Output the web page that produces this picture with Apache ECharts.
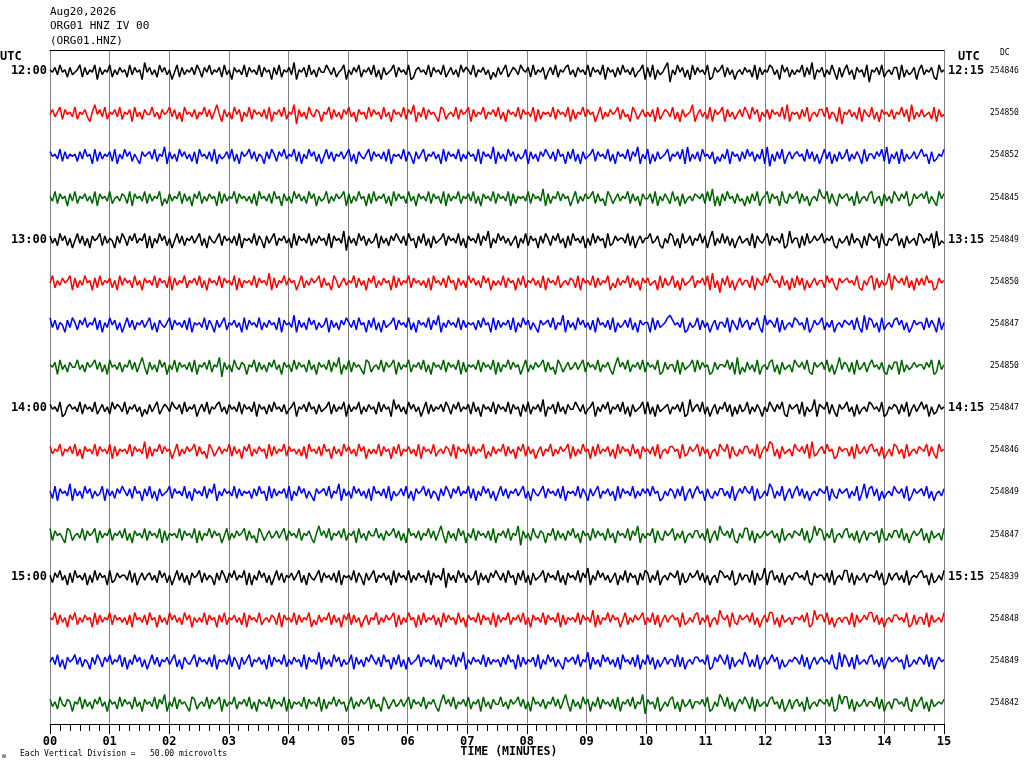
<!DOCTYPE html>
<html>
<head>
<meta charset="utf-8">
<title>ORG01 HNZ IV 00</title>
<script src="https://cdn.jsdelivr.net/npm/echarts@6/dist/echarts.min.js"></script>
<style>
  html, body { margin: 0; padding: 0; background: #ffffff; }
  #chart { width: 1024px; height: 768px; }
</style>
</head>
<body>
<div id="chart"></div>
<script>
// header / axis texts
var titleLines = ['Aug20,2026', 'ORG01 HNZ IV 00', '(ORG01.HNZ)'];
var minuteLabels = ['00', '01', '02', '03', '04', '05', '06', '07', '08', '09', '10', '11', '12', '13', '14', '15'];
var hourLabels = ['12:00', '', '', '', '13:00', '', '', '', '14:00', '', '', '', '15:00', '', '', ''];
var endLabels = ['12:15', '', '', '', '13:15', '', '', '', '14:15', '', '', '', '15:15', '', '', ''];
var dcValues = ['254846', '254850', '254852', '254845', '254849', '254850', '254847', '254850',
                '254847', '254846', '254849', '254847', '254839', '254848', '254849', '254842'];
var traceColors = ['#000000', '#ff0000', '#0000ff', '#006400'];

// samples per 15-minute line, one digit per sample (4.5 = trace baseline)
var traceSamples = [
  "4536254736 5427364528 3645274635 4726354815 3647253648 5273645362 4735264537 2648354627 3546273548 3627453618 4537264735 5246375428 4635274536 2748365427 3546287435 4627354627 5364725346 2745364857 3642753462 4537264538 5362745326 4735462735 4628354736 2546375428 3728465319 4625374826 3546287354 2736485463 5472836452 3648253746 4527361845 3746258374 2648354729 4536275463 3827465384 2645378254",
  "5364273546 2745368415 3627453627 4538264735 5264735426 3748254637 4526374158 3647253846 2735463728 4536274519 3647256348 4527364735 2648354726 3547264835 4627351846 2735468237 5462735428 3645274536 2748354627 3546283745 4627354628 3745263548 5274635427 3658247536 4638275346 2748365418 5364728354 2836475362 4725384637 3546271845 4736285463 3627458294 5364728356 2748354637 4526381746 3654728365",
  "3546273645 4736254827 3645372846 2537468354 3627451836 4725364738 2546372846 5362748354 2637458362 4735264527 3846253748 5263745364 2748356427 3546372845 4627358364 2745364827 3546274635 4728354618 3647253746 5283647352 4637254836 2748365427 3546274835 4627351846 2847365427 4536281746 3725463857 4628354736 2537462819 4736285364 3547263748 5263847365 2746358274 4635271846 3827465364 2548376452",
  "4627354836 2745364728 3546275463 4728354627 3645285736 4527364835 2746354827 3645273546 4738254637 2548364725 3647253846 5274635428 3746254837 2645374826 3547264835 4627354728 3645274536 2748354627 3546283745 4627354618 3745263548 5274635427 3658247536 4527364835 5372846357 2648375463 4537261848 3625473658 4736285427 3548267354 2736485461 4527368354 3648275463 2754836472 4635287354 3527468253",
  "3647253748 5263748354 2736458362 4735264528 3846253748 5263745364 2748356427 3546372845 4627358364 2745364827 3546274635 4728354619 3647253746 5283647352 4637254836 2748365427 3546274835 4627351846 2536475384 6273548362 4735264837 2546384726 3548276354 4627385364 4265378462 3748265374 5263841746 2637485365 4728356427 3546287164 4837265354 2645378465 3726458372 4538267453 2748365472 3645281756",
  "5274635428 3746254837 2645374826 3547264835 4627354728 3645274536 2748354627 3546283745 4627354618 3745263548 5274635427 3658247536 4527364835 2746354827 3645273546 4738254637 2548364725 3647253846 4627354836 2745364728 3546275463 4728354627 3645285736 4527364835 3654827365 2748365427 4536281749 3627485364 4728356251 3547264837 2638475364 4725368354 3546278463 2837465182 4536274836 3625487354",
  "2637458362 4735264527 3846253748 5263745364 2748356427 3546372845 4627358364 2745364827 3546274635 4728354618 3647253746 5283647352 4637254836 2748365427 3546274835 4627351846 3546273645 4736254827 3645372846 2537468354 3627451836 4725364738 2546372846 5362748354 4827365421 3546287465 2736485374 4628357264 3745268153 4628375462 3547286354 2746385463 4537268172 3648275463 2537486354 4726358274",
  "4538264735 5264735426 3748254637 4526374158 3647253846 2735463728 4536274519 3647256348 4527364735 2648354726 3547264835 4627351846 2735468237 5462735428 3645274536 2748354627 3546283745 4627354628 3745263548 5274635427 3658247536 5364273546 2745368415 3627453627 3546287364 4728365427 2635487364 4526381857 3647285463 2748365472 4536278354 3627485163 4738265374 2546378463 3827465354 4635287264",
  "3546287435 4627354627 5364725346 2745364857 3642753462 4537264538 5362745326 4735462735 4628354736 2546375428 4536254736 5427364528 3645274635 4726354815 3647253648 5273645362 4735264537 2648354627 3546273548 3627453618 4537264735 5246375428 4635274536 2748365427 2748365437 4536287164 3627485374 5263847365 2746358462 4635278354 3728465183 4527368354 2648375462 3546287453 4736285364 2538476354",
  "3645274536 2748354627 3546283745 4627354618 3745263548 5274635427 3658247536 4527364835 2746354827 3645273546 4738254637 2548364725 3647253846 4627354836 2745364728 3546275463 4728354627 3645285736 4527364835 2736485374 5274635428 3746254837 2645374826 3547264835 4637285463 3548276354 2736485472 4528367463 3647285351 2748365472 4536281764 3625487354 4738265363 2547386472 3648275463 4527368254",
  "4728354618 3647253746 5283647352 4637254836 2748365427 3546274835 4627351846 3546273645 4736254827 3645372846 2537468354 3627451836 4725364738 2546372846 5362748354 2637458362 4735264527 3846253748 5263745364 2748356427 3546372845 4627358364 2745364827 3546274635 3625487463 4736285374 2548367463 3647285352 4528376461 3746285374 2637485463 4528367354 3746285173 2638475462 4537286354 3627485463",
  "2735468237 5462735428 3645274536 2748354627 3546283745 4627354628 3745263548 5274635427 3658247536 5364273546 2745368415 3627453627 4538264735 5264735426 3748254637 4526374158 3647253846 2735463728 4536274519 3647256348 4527364735 2648354726 3547264835 4627351846 4528367354 2746385463 3647285371 4536278462 2738465354 3648275463 4527386152 3746285463 2647385374 4538267463 3627485354 2748365472",
  "4735264837 2546384726 3548276354 4627385364 3647253748 5263748354 2736458362 4735264528 3846253748 5263745364 2748356427 3546372845 4627358364 2745364827 3546274635 4728354619 3647253746 5283647352 4637254836 2748365427 3546274835 4627351846 2536475384 6273548362 3746285463 4528376354 2637485472 3546287364 4728365183 2647385463 3546278354 4637285462 2738465374 4526387364 3647285453 2548376462",
  "4527364835 2746354827 3645273546 4738254637 2548364725 3647253846 4627354836 2745364728 3546275463 4728354627 3645285736 4527364835 2736485374 5274635428 3746254837 2645374826 3547264835 4627354728 3645274536 2748354627 3546283745 4627354618 3745263548 5274635427 4627385364 3548276463 2746385471 4538267354 3627485362 2748365474 4536287153 3627485464 4728365352 2637485463 3546287374 4728365462",
  "5362748354 2637458362 4735264527 3846253748 5263745364 2748356427 3546372845 4627358364 2745364827 3546274635 4728354618 3647253746 5283647352 4637254836 2748365427 3546274835 4627351846 3546273645 4736254827 3645372846 2537468354 3627451836 4725364738 2546372846 2638475364 4727385463 3546287352 4628375461 3747285364 2538476453 4627385364 3546278172 4738265463 2647385354 3548276463 4627385354",
  "3647256348 4527364735 2648354726 3547264835 4627351846 2735468237 5462735428 3645274536 2748354627 3546283745 4627354628 3745263548 5274635427 3658247536 5364273546 2745368415 3627453627 4538264735 5264735426 3748254637 4526374158 3647253846 2735463728 4536274519 3547286463 2748365374 4536287461 3627485352 4728365463 2547386374 3648275463 4536287152 2738465364 4627385473 3546278364 2748365453"
];

var MONO = '"DejaVu Sans Mono", "Liberation Mono", monospace';
var GAIN = 0.058; // line-spacing units per sample step

var chart = echarts.init(document.getElementById('chart'));

var series = traceSamples.map(function (s, i) {
  var samples = s.replace(/\s/g, '').split('').map(Number);
  var n = samples.length;
  return {
    type: 'line',
    xAxisIndex: 0,
    yAxisIndex: 0,
    showSymbol: false,
    silent: true,
    animation: false,
    lineStyle: { color: traceColors[i % 4], width: 1.5 },
    data: samples.map(function (v, j) {
      return [j * 15 / (n - 1), i + 0.5 + (v - 4.5) * GAIN];
    })
  };
});

function txt(text, x, y, size, weight, align) {
  return {
    type: 'text',
    x: x,
    y: y,
    silent: true,
    style: {
      text: text,
      fill: '#000',
      font: (weight || 'normal') + ' ' + size + 'px ' + MONO,
      textAlign: align || 'left',
      textVerticalAlign: 'middle'
    }
  };
}

var graphics = [
  txt(titleLines[0], 50, 12, 11),
  txt(titleLines[1], 50, 26, 11),
  txt(titleLines[2], 50, 41, 11),
  txt('UTC', 0, 57, 12, 'bold'),
  txt('UTC', 958, 57, 12, 'bold'),
  txt('DC', 1000, 53, 8),
  txt('TIME (MINUTES)', 509, 752, 11.5, 'bold', 'center'),
  txt('Each Vertical Division =   50.00 microvolts', 20, 754, 8),
  txt('\u028D', 2, 756, 7)
];

var option = {
  backgroundColor: '#ffffff',
  animation: false,
  grid: { left: 50, right: 80, top: 50, bottom: 44, containLabel: false },
  xAxis: [{
    type: 'value',
    position: 'bottom',
    min: 0,
    max: 15,
    interval: 1,
    axisLine: { show: true, onZero: false, lineStyle: { color: '#000', width: 1 } },
    axisTick: { show: true, length: 10, lineStyle: { color: '#000' } },
    minorTick: { show: true, splitNumber: 6, length: 7, lineStyle: { color: '#000' } },
    splitLine: { show: true, lineStyle: { color: '#808080', width: 1 } },
    axisLabel: {
      margin: 12,
      color: '#000',
      fontFamily: MONO,
      fontSize: 12,
      fontWeight: 'bold',
      formatter: function (v) { return minuteLabels[Math.round(v)]; }
    }
  }, {
    type: 'value',
    position: 'top',
    min: 0,
    max: 15,
    axisLine: { show: true, onZero: false, lineStyle: { color: '#000', width: 1 } },
    axisTick: { show: false },
    axisLabel: { show: false },
    splitLine: { show: false }
  }],
  yAxis: [{
    type: 'value',
    min: 0,
    max: 16,
    inverse: true,
    show: false
  }, {
    type: 'category',
    position: 'left',
    inverse: true,
    data: hourLabels,
    axisLine: { show: false },
    axisTick: { show: false },
    splitLine: { show: false },
    axisLabel: { interval: 0, margin: 3, color: '#000', fontFamily: MONO, fontSize: 12, fontWeight: 'bold' }
  }, {
    type: 'category',
    position: 'right',
    inverse: true,
    data: endLabels,
    axisLine: { show: false },
    axisTick: { show: false },
    splitLine: { show: false },
    axisLabel: { interval: 0, margin: 4, color: '#000', fontFamily: MONO, fontSize: 12, fontWeight: 'bold' }
  }, {
    type: 'category',
    position: 'right',
    offset: 46,
    inverse: true,
    data: dcValues,
    axisLine: { show: false },
    axisTick: { show: false },
    splitLine: { show: false },
    axisLabel: { interval: 0, margin: 0, color: '#000', fontFamily: MONO, fontSize: 8 }
  }],
  graphic: graphics,
  series: series
};

chart.setOption(option);
</script>
</body>
</html>
